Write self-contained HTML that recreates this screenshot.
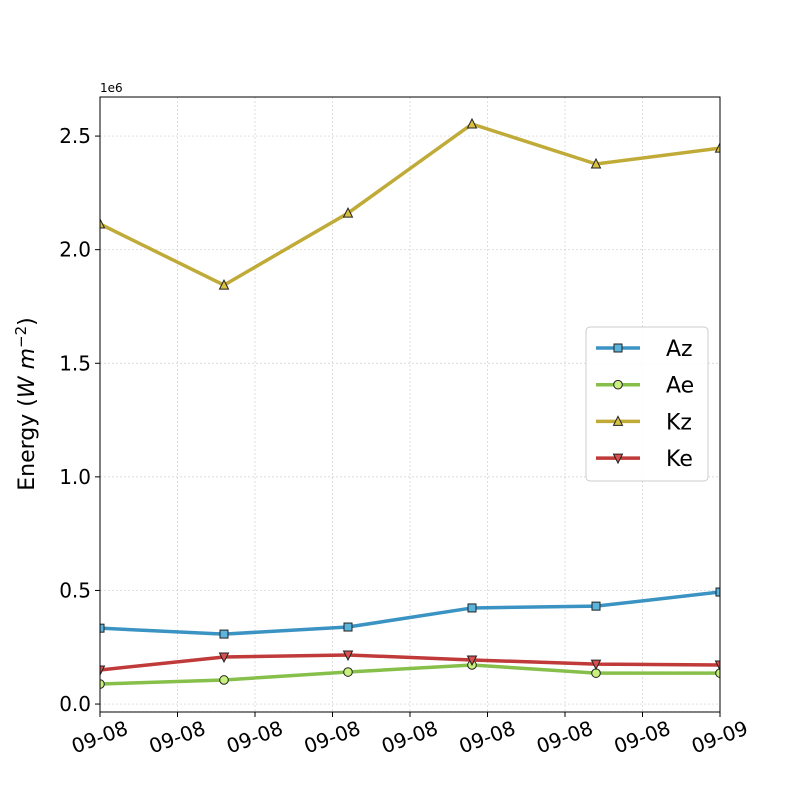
<!DOCTYPE html>
<html><head><meta charset="utf-8"><style>
body{margin:0;background:#fff;}
svg text{font-family:"DejaVu Sans","Liberation Sans",sans-serif;}
</style></head><body>
<svg id="chart" width="800" height="800" xmlns="http://www.w3.org/2000/svg"></svg>
<script>
const categories = ["t0","t1","t2","t3","t4","t5"];
const azValues = [0.334e6,0.308e6,0.339e6,0.423e6,0.431e6,0.493e6];
const aeValues = [0.088e6,0.106e6,0.141e6,0.172e6,0.136e6,0.136e6];
const kzValues = [2.113e6,1.844e6,2.161e6,2.553e6,2.377e6,2.447e6];
const keValues = [0.150e6,0.207e6,0.216e6,0.194e6,0.176e6,0.172e6];
const yTickValues = [0,0.5e6,1.0e6,1.5e6,2.0e6,2.5e6];
const yTickLabels = ["0.0","0.5","1.0","1.5","2.0","2.5"];
const xTickLabels = ["09-08","09-08","09-08","09-08","09-08","09-08","09-08","09-08","09-09"];

const NS="http://www.w3.org/2000/svg";
const svg=document.getElementById('chart');
const L=100,R=720,T=97,B=712;
const yMin=-0.035e6,yMax=2.672e6;
function xPos(i){return L+(R-L)*i/(categories.length-1);}
function yPos(v){return B-(v-yMin)/(yMax-yMin)*(B-T);}
function mk(tag,attrs,parent){const e=document.createElementNS(NS,tag);for(const k in attrs)e.setAttribute(k,attrs[k]);(parent||svg).appendChild(e);return e;}

const grid=mk('g',{});


xTickLabels.forEach((lab,i)=>{
  const x=L+(R-L)*i/(xTickLabels.length-1);
  mk('line',{x1:x,x2:x,y1:T,y2:B,stroke:'#b0b0b0','stroke-width':0.7,'stroke-dasharray':'2,2','stroke-opacity':0.6},grid);
  mk('line',{x1:x,x2:x,y1:B,y2:B+5,stroke:'#000','stroke-width':1});
  const t=mk('text',{x:x,y:B+32,'font-size':20,'text-anchor':'middle',transform:`rotate(-20 ${x} ${B+26})`});
  t.textContent=lab;
  
  
});
yTickValues.forEach((v,i)=>{
  const y=yPos(v);
  mk('line',{x1:L,x2:R,y1:y,y2:y,stroke:'#b0b0b0','stroke-width':0.7,'stroke-dasharray':'2,2','stroke-opacity':0.6},grid);
  mk('line',{x1:L-5,x2:L,y1:y,y2:y,stroke:'#000','stroke-width':1});
  const t=mk('text',{x:L-9,y:y+7,'font-size':20,'text-anchor':'end'});
  t.textContent=yTickLabels[i];
  
  
});
const off=mk('text',{x:L,y:T-5,'font-size':12});off.textContent='1e6';


const yt=mk('text',{x:0,y:0,'font-size':22,'text-anchor':'middle',transform:'translate(40 404) rotate(-90)'});
yt.innerHTML='Energy (<tspan font-style="italic">W m</tspan><tspan dy="-8" font-size="15">−2</tspan><tspan dy="8">)</tspan>';
yt.setAttribute('transform','translate(40 404) rotate(-90)');
yt.setAttribute('x','0');


yt.setAttribute('transform','translate(41 404) rotate(-90)');
yt.setAttribute('dy','0');
yt.setAttribute('y','-7');

const series=[
 {name:'Az',vals:azValues,color:'#3a93c3',fill:'#5ab4dc',m:'s'},
 {name:'Ae',vals:aeValues,color:'#86c04a',fill:'#c8f07c',m:'o'},
 {name:'Kz',vals:kzValues,color:'#c0ab38',fill:'#d8c040',m:'^'},
 {name:'Ke',vals:keValues,color:'#c03a3a',fill:'#d85050',m:'v'}
];
function marker(m,x,y,fill,parent){
  const a={fill:fill,stroke:'#222','stroke-width':1};
  if(m==='s')return mk('rect',Object.assign({x:x-4,y:y-4,width:8,height:8},a),parent);
  if(m==='o')return mk('circle',Object.assign({cx:x,cy:y,r:4.3},a),parent);
  if(m==='^')return mk('polygon',Object.assign({points:`${x},${y-5} ${x-4.5},${y+4} ${x+4.5},${y+4}`},a),parent);
  return mk('polygon',Object.assign({points:`${x},${y+5} ${x-4.5},${y-4} ${x+4.5},${y-4}`},a),parent);
}
const clip=mk('clipPath',{id:'pc'});mk('rect',{x:L,y:T,width:R-L,height:B-T},clip);
series.forEach(s=>{
  const g=mk('g',{'clip-path':'url(#pc)'});
  
  
  const pts=s.vals.map((v,i)=>xPos(i)+','+yPos(v)).join(' ');
  mk('polyline',{points:pts,fill:'none',stroke:s.color,'stroke-width':3.5},g);
  s.vals.forEach((v,i)=>{const p=marker(s.m,xPos(i),yPos(v),s.fill,g);
    
    });
});
mk('rect',{x:L,y:T,width:R-L,height:B-T,fill:'none',stroke:'#000','stroke-width':1});

const lg=mk('g',{});


mk('rect',{x:586,y:327,width:122,height:154,rx:4,fill:'#fff','fill-opacity':0.85,stroke:'#ccc'},lg);
series.forEach((s,i)=>{
  const y=348+i*36.7;
  const e=mk('g',{},lg);
  
  
  mk('line',{x1:596,x2:640,y1:y,y2:y,stroke:s.color,'stroke-width':3.5},e);
  marker(s.m,618,y,s.fill,e);
  const t=mk('text',{x:666,y:y+8,'font-size':22},e);t.textContent=s.name;
});
</script>
</body></html>
